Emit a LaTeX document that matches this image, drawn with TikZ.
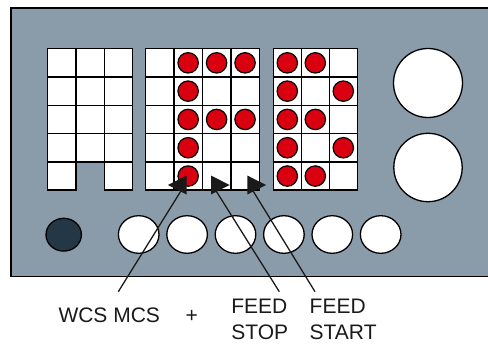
\documentclass[tikz,border=0pt]{standalone}
\usepackage{fontspec}
\setmainfont{Liberation Sans}
\definecolor{panelc}{HTML}{8A9CAA}
\definecolor{darkc}{HTML}{243746}
\definecolor{dotc}{HTML}{D9000F}
\definecolor{inkc}{HTML}{1A1A1A}
\begin{document}
\begin{tikzpicture}[x=1pt,y=-1pt,
  panelbox/.style={fill=panelc,draw=black,line width=1.6pt},
  cellbox/.style={fill=white,draw=black,line width=1.5pt},
  reddot/.style={fill=dotc,draw=black,line width=1.2pt},
  knob/.style={fill=white,draw=black,line width=1.3pt},
  darkknob/.style={fill=darkc,draw=black,line width=1.3pt},
  pointer/.style={draw=inkc,line width=1.3pt},
  tip/.style={fill=inkc},
  lbl/.style={inner sep=0pt,font=\fontsize{21}{26}\selectfont,text=inkc}]
\useasboundingbox (0,0) rectangle (488,345);
\clip (0,0) rectangle (488,345);
% panel
\draw[panelbox] (10.7,8) rectangle (500,276.5);
% left grid (3x5), bottom middle cell missing
\foreach \c in {0,1,2}{
  \foreach \r in {0,1,2,3,4}{
    \ifnum\r=4 \ifnum\c=1 \else
      \draw[cellbox] ({47.7+28.33*\c},{48.7+28.3*\r}) rectangle ++(28.33,28.3);
    \fi\else
      \draw[cellbox] ({47.7+28.33*\c},{48.7+28.3*\r}) rectangle ++(28.33,28.3);
    \fi
  }}
% middle grid (4x5)
\foreach \c in {0,1,2,3}{
  \foreach \r in {0,1,2,3,4}{
    \draw[cellbox] ({145.5+28.45*\c},{48.7+28.3*\r}) rectangle ++(28.45,28.3);
  }}
% right grid (3x5)
\foreach \c in {0,1,2}{
  \foreach \r in {0,1,2,3,4}{
    \draw[cellbox] ({273.3+28*\c},{48.7+28.3*\r}) rectangle ++(28,28.3);
  }}
% red dots in middle grid
\foreach \c/\r in {1/0,1/1,1/2,1/3,1/4,2/0,2/2,3/0,3/2}{
  \draw[reddot] ({145.5+28.45*\c+14.2},{48.7+28.3*\r+14.15}) circle[radius=10.2pt];
}
% red dots in right grid
\foreach \c/\r in {0/0,0/1,0/2,0/3,0/4,1/0,1/2,1/4,2/1,2/3}{
  \draw[reddot] ({273.3+28*\c+14},{48.7+28.3*\r+14.15}) circle[radius=10.2pt];
}
% big knobs
\draw[knob] (428,83) circle[radius=34.5pt];
\draw[knob] (428,167.5) circle[radius=34.2pt];
% bottom buttons
\draw[darkknob] (63.7,234.7) ellipse[x radius=17.7pt,y radius=16.4pt];
\foreach \i in {0,...,5}{
  \draw[knob] ({138.7+48.4*\i},234.5) ellipse[x radius=20.3pt,y radius=18.8pt];
}
% labels
\node[lbl,anchor=base west] (wcs) at (58.3,322.5) {WCS MCS};
\node[lbl,anchor=base] (plus) at (191.7,322.5) {+};
\node[lbl,anchor=north west,align=left] (stop) at (231.2,299.3) {FEED\\STOP};
\node[lbl,anchor=north west,align=left] (start) at (309.5,299.3) {FEED\\START};
% pointer ends
\coordinate (p1s) at (118.3,291.7);
\coordinate (p1e) at (184,186);
\coordinate (p2s) at (279.3,291.7);
\coordinate (p2e) at (213,186);
\coordinate (p3s) at (315,291.7);
\coordinate (p3e) at (250,186);
\draw[pointer] (p1s) -- (p1e);
\draw[pointer] (p2s) -- (p2e);
\draw[pointer] (p3s) -- (p3e);
% arrow heads
\fill[tip] (168,185) -- (186.5,175.5) -- (186.5,194.5) -- cycle;
\fill[tip] (229.5,185) -- (211,175.5) -- (211,194.5) -- cycle;
\fill[tip] (266,185) -- (247.3,175.5) -- (247.3,194.5) -- cycle;
\end{tikzpicture}
\end{document}
